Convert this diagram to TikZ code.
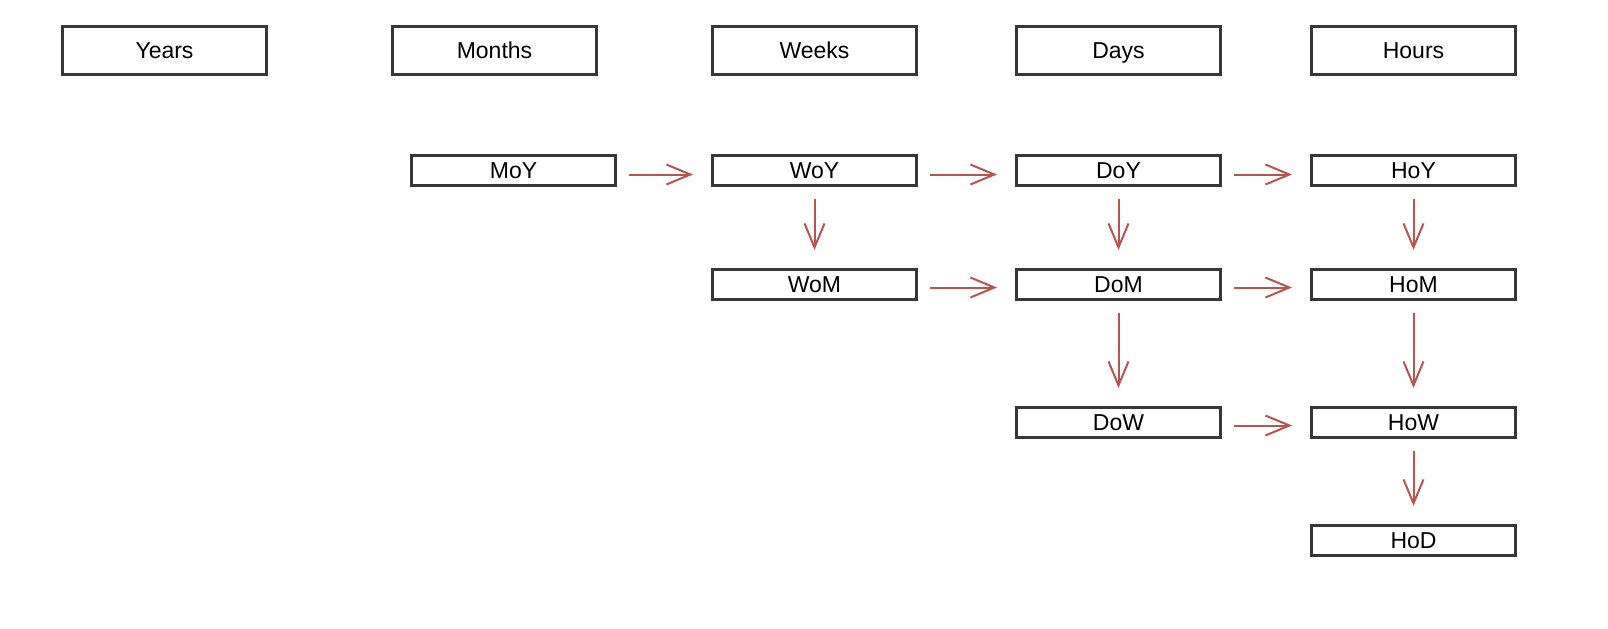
\documentclass[tikz,border=0pt]{standalone}
\usepackage{fontspec}
\setmainfont{Liberation Sans}
\usetikzlibrary{arrows.meta}
\definecolor{boxline}{RGB}{55,55,55}
\definecolor{arr}{HTML}{B85450}
\tikzset{
    unit/.style={draw=boxline,line width=1.5pt,minimum width=102pt,minimum height=24pt,
        inner sep=0pt,text height=8.2pt,text depth=0.6pt,font=\fontsize{11.5}{13}\selectfont},
    part/.style={unit,minimum height=15pt},
    link/.style={draw=arr,line width=1pt,shorten <=6pt,shorten >=9pt,
        -{Straight Barb[length=12pt,width=10pt,line width=1pt]}}
}
\begin{document}
\begin{tikzpicture}[x=0.5pt,y=-0.5pt]
            \useasboundingbox (0,0) rectangle (1608,628);
            % headers
            \node[unit] (y)  at (164.5,50.5)  {Years};
            \node[unit] (m)  at (494.5,50.5)  {Months};
            \node[unit] (w)  at (814.5,50.5)  {Weeks};
            \node[unit] (d)  at (1118.5,50.5) {Days};
            \node[unit] (h)  at (1413.5,50.5) {Hours};
            % parts
            \node[part] (moy) at (513.5,170.5)  {MoY};
            \node[part] (woy) at (814.5,170.5)  {WoY};
            \node[part] (doy) at (1118.5,170.5) {DoY};
            \node[part] (hoy) at (1413.5,170.5) {HoY};
            \node[part] (wom) at (814.5,284.5)  {WoM};
            \node[part] (dom) at (1118.5,284.5) {DoM};
            \node[part] (hom) at (1413.5,284.5) {HoM};
            \node[part] (dow) at (1118.5,422.5) {DoW};
            \node[part] (how) at (1413.5,422.5) {HoW};
            \node[part] (hod) at (1413.5,540.5) {HoD};
            % links, left to right
            \draw[link] ([yshift=-2pt]moy.east) -- ([yshift=-2pt]woy.west);
            \draw[link] ([yshift=-2pt]woy.east) -- ([yshift=-2pt]doy.west);
            \draw[link] ([yshift=-2pt]doy.east) -- ([yshift=-2pt]hoy.west);
            \draw[link] ([yshift=-1.5pt]wom.east) -- ([yshift=-1.5pt]dom.west);
            \draw[link] ([yshift=-1.5pt]dom.east) -- ([yshift=-1.5pt]hom.west);
            \draw[link] ([yshift=-1.5pt]dow.east) -- ([yshift=-1.5pt]how.west);
            % links, top to bottom
            \draw[link] (woy) -- (wom);
            \draw[link] (doy) -- (dom);
            \draw[link] (hoy) -- (hom);
            \draw[link] (dom) -- (dow);
            \draw[link] (hom) -- (how);
            \draw[link] (how) -- (hod);
        \end{tikzpicture}
\end{document}
